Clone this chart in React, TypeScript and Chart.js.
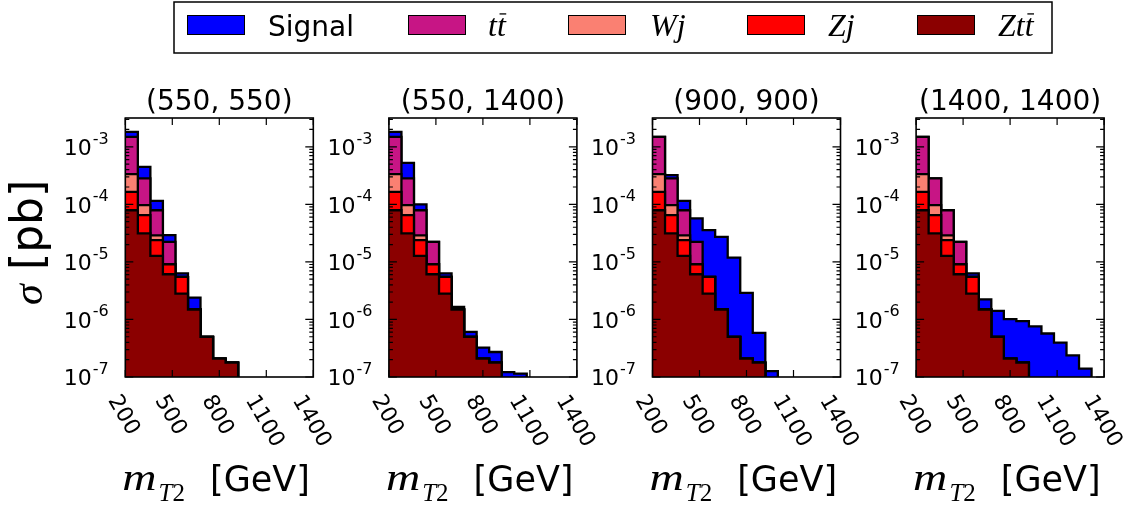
import React, { useEffect, useRef } from "react";
import { Chart, registerables } from "chart.js";

Chart.register(...registerables);

const WIDTH = 1131;
const HEIGHT = 507;

// m_T2 bin edges [GeV], 80 GeV bins
const binEdges = [200, 280, 360, 440, 520, 600, 680, 760, 840, 920, 1000, 1080, 1160, 1240, 1320, 1400];

const panelTitles = ["(550, 550)", "(550, 1400)", "(900, 900)", "(1400, 1400)"];
const xTickLabels = [200, 500, 800, 1100, 1400];
const yTickExponents = [-3, -4, -5, -6, -7];

// Background cross sections per bin [pb]
const zttBg = [7.9e-5, 3.12e-5, 1.27e-5, 6.1e-6, 2.82e-6, 1.49e-6, 4.97e-7, 2.09e-7, 1.78e-7, 0, 0, 0, 0, 0, 0];
const zjBg = [8.6e-5, 3.38e-5, 1.11e-5, 3.0e-6, 2.68e-6, 0, 0, 0, 0, 0, 0, 0, 0, 0, 0];
const wjBg = [1.7e-4, 3.2e-5, 5.0e-6, 0, 0, 0, 0, 0, 0, 0, 0, 0, 0, 0, 0];
const ttBg = [1.155e-3, 1.85e-4, 5.02e-5, 1.32e-5, 0, 0, 0, 0, 0, 0, 0, 0, 0, 0, 0];

// Signal cross sections per bin [pb] for each mass point
const signal550x550 = [3.3e-4, 1.67e-4, 3.6e-5, 6.8e-6, 8e-7, 9.1e-7, 0, 0, 0, 0, 0, 0, 0, 0, 0];
const signal550x1400 = [3.3e-4, 2.45e-4, 2.1e-5, 0, 8e-7, 1.6e-7, 1.1e-7, 1.15e-7, 9.4e-8, 1.22e-7, 1.14e-7, 0, 0, 0, 0];
const signal900x900 = [0, 4.0e-5, 3.6e-5, 3.45e-5, 3.0e-5, 2.57e-5, 1.14e-5, 2.68e-6, 4.04e-7, 1.27e-7, 0, 0, 0, 0, 0];
const signal1400x1400 = [0, 0, 0, 0, 8e-7, 7.5e-7, 9.1e-7, 8.0e-7, 7.6e-7, 7.6e-7, 5.7e-7, 3.96e-7, 2.38e-7, 1.4e-7, 0];

const signals = [signal550x550, signal550x1400, signal900x900, signal1400x1400];

// Stack order, bottom to top
const layerNames = ["Ztt", "Zj", "Wj", "tt", "Signal"];
const layerColors = ["#8B0000", "#FF0000", "#FA8072", "#C71585", "#0000FF"];

const Y_MIN = 1e-7;
const Y_MAX = Math.pow(10, -2.5);
const FLOOR = 1e-10;

const PANEL_LEFT0 = 125.3;
const PANEL_STEP = 263.6;
const PANEL_WIDTH = 188;
const PANEL_TOP = 118;
const PANEL_BOTTOM = 377;

const SANS = '"DejaVu Sans"';
const SERIF = '"Liberation Serif"';

function cumulativeLayers(signal: number[]): number[][] {
  const layers = [zttBg, zjBg, wjBg, ttBg, signal];
  const out: number[][] = [];
  let run = new Array(layers[0].length).fill(0);
  for (const layer of layers) {
    run = run.map((v, i) => v + layer[i]);
    out.push(run.slice());
  }
  return out;
}

// one point per left bin edge plus the closing right edge
function stepPoints(cum: number[]) {
  const pts = cum.map((v, i) => ({ x: binEdges[i], y: v > 0 ? v : FLOOR }));
  pts.push({ x: binEdges[binEdges.length - 1], y: FLOOR });
  return pts;
}

function drawMath(ctx: CanvasRenderingContext2D, text: string, x: number, y: number, size: number, barFrom: number) {
  // italic serif text; characters from index barFrom onward get an overbar
  ctx.font = `italic ${size}px ${SERIF}`;
  ctx.textAlign = "left";
  ctx.fillText(text, x, y);
  if (barFrom >= 0) {
    const pre = ctx.measureText(text.slice(0, barFrom)).width;
    const w = ctx.measureText(text.slice(barFrom)).width;
    ctx.save();
    ctx.lineWidth = 1.3;
    ctx.beginPath();
    ctx.moveTo(x + pre + w * 0.3, y - size * 0.69);
    ctx.lineTo(x + pre + w * 1.05, y - size * 0.69);
    ctx.stroke();
    ctx.restore();
  }
}

function drawLegend(ctx: CanvasRenderingContext2D) {
  ctx.save();
  ctx.fillStyle = "#fff";
  ctx.fillRect(174, 2, 878, 51);
  ctx.strokeStyle = "#000";
  ctx.lineWidth = 1.5;
  ctx.strokeRect(174, 2, 878, 51);
  const patchX = [187, 408, 568, 747, 917];
  const labelX = [268, 488, 650, 828, 998];
  const order = [4, 3, 2, 1, 0];
  order.forEach((layer, k) => {
    ctx.fillStyle = layerColors[layer];
    ctx.fillRect(patchX[k], 15, 58, 20);
    ctx.lineWidth = 1;
    ctx.strokeStyle = "#000";
    ctx.strokeRect(patchX[k] + 0.5, 15.5, 57, 19);
    ctx.fillStyle = "#000";
    ctx.textBaseline = "alphabetic";
    const name = layerNames[layer];
    if (name === "Signal") {
      ctx.font = `28px ${SANS}`;
      ctx.textAlign = "left";
      ctx.fillText("Signal", labelX[k], 36);
    } else if (name === "tt") {
      drawMath(ctx, "tt", labelX[k], 36, 32, 1);
    } else if (name === "Ztt") {
      drawMath(ctx, "Ztt", labelX[k], 36, 32, 2);
    } else {
      drawMath(ctx, name, labelX[k], 36, 32, -1);
    }
  });
  ctx.restore();
}

function decorPlugin(panel: number) {
  return {
    id: "panelDecor" + panel,
    afterDraw(chart: any) {
      const ctx: CanvasRenderingContext2D = chart.ctx;
      const { left, right, top, bottom } = chart.chartArea;
      const xs = chart.scales.x;
      const ys = chart.scales.y;
      const cx = (left + right) / 2;
      ctx.save();
      ctx.strokeStyle = "#000";
      ctx.fillStyle = "#000";

      // inward ticks
      ctx.lineWidth = 1.2;
      ctx.beginPath();
      for (const v of xTickLabels) {
        const px = xs.getPixelForValue(v);
        ctx.moveTo(px, bottom);
        ctx.lineTo(px, bottom - 7);
        ctx.moveTo(px, top);
        ctx.lineTo(px, top + 7);
      }
      for (let e = -7; e <= -3; e++) {
        for (let m = 1; m <= 9; m++) {
          const v = m * Math.pow(10, e);
          if (v > Y_MAX * 1.0001) break;
          const py = ys.getPixelForValue(v);
          const len = m === 1 ? 8 : 4;
          ctx.moveTo(left, py);
          ctx.lineTo(left + len, py);
          ctx.moveTo(right, py);
          ctx.lineTo(right - len, py);
        }
      }
      ctx.stroke();

      // frame
      ctx.lineWidth = 1.6;
      ctx.strokeRect(left, top, right - left, bottom - top);

      // title
      ctx.font = `28px ${SANS}`;
      ctx.textAlign = "center";
      ctx.textBaseline = "alphabetic";
      ctx.fillText(panelTitles[panel], cx, 110);

      // y tick labels: 10^e
      for (const e of yTickExponents) {
        const py = ys.getPixelForValue(Math.pow(10, e));
        const sup = String(e);
        ctx.font = `16px ${SANS}`;
        const supW = ctx.measureText(sup).width;
        ctx.font = `22px ${SANS}`;
        const baseW = ctx.measureText("10").width;
        const rightEdge = left - 16.5;
        ctx.textAlign = "left";
        ctx.fillText("10", rightEdge - supW - baseW - 1, py + 8.2);
        ctx.font = `16px ${SANS}`;
        ctx.fillText(sup, rightEdge - supW, py - 3);
      }

      // x tick labels, rotated clockwise
      ctx.font = `22px ${SANS}`;
      const ang = (60 * Math.PI) / 180;
      for (const v of xTickLabels) {
        const px = xs.getPixelForValue(v);
        const label = String(v);
        const w = ctx.measureText(label).width;
        const h = 16;
        const H = w * Math.sin(ang) + h * Math.cos(ang);
        ctx.save();
        ctx.translate(px, 392 + H / 2);
        ctx.rotate(ang);
        ctx.textAlign = "center";
        ctx.fillText(label, 0, 8);
        ctx.restore();
      }

      // x axis title: m_T2 [GeV]
      ctx.textAlign = "left";
      const mX = cx - 97;
      const mStretch = 1.25;
      ctx.save();
      ctx.translate(mX, 490);
      ctx.scale(mStretch, 1);
      ctx.font = `italic 38px ${SERIF}`;
      ctx.fillText("m", 0, 0);
      const mW = ctx.measureText("m").width * mStretch;
      ctx.restore();
      ctx.font = `italic 25px ${SERIF}`;
      ctx.fillText("T", mX + mW + 2, 501);
      const tW = ctx.measureText("T").width;
      ctx.font = `25px ${SERIF}`;
      ctx.fillText("2", mX + mW + 2 + tW, 501);
      ctx.font = `35px ${SANS}`;
      ctx.fillText("[GeV]", cx - 9.3, 491);

      if (panel === 0) {
        // y axis title: sigma [pb]
        ctx.save();
        ctx.translate(42, 305);
        ctx.rotate(-Math.PI / 2);
        ctx.textAlign = "left";
        ctx.font = `italic 42px ${SERIF}`;
        ctx.fillText("σ", 0, 0);
        ctx.font = `44px ${SANS}`;
        ctx.fillText("[pb]", 35, 0);
        ctx.restore();
        drawLegend(ctx);
      }
      ctx.restore();
    },
  };
}

function makeConfig(panel: number): any {
  const cum = cumulativeLayers(signals[panel]);
  const datasets = cum.map((c, k) => ({
    label: layerNames[k],
    data: stepPoints(c),
    // horizontal at each point's value up to the next edge, then vertical
    stepped: "before",
    borderColor: "#000",
    borderWidth: 2.3,
    backgroundColor: layerColors[k],
    fill: k === 0 ? "start" : "-1",
    pointRadius: 0,
    tension: 0,
    borderJoinStyle: "miter",
  }));
  const left = PANEL_LEFT0 + panel * PANEL_STEP;
  return {
    type: "line",
    data: { datasets },
    options: {
      animation: false,
      responsive: false,
      events: [],
      layout: {
        padding: {
          left,
          right: WIDTH - left - PANEL_WIDTH,
          top: PANEL_TOP,
          bottom: HEIGHT - PANEL_BOTTOM,
        },
      },
      scales: {
        x: { type: "linear", min: 200, max: 1400, bounds: "data", display: false },
        y: { type: "logarithmic", min: Y_MIN, max: Y_MAX, bounds: "data", display: false },
      },
      plugins: { legend: { display: false }, tooltip: { enabled: false } },
    },
    plugins: [decorPlugin(panel)],
  };
}

export default function App() {
  const canvasRefs = useRef<(HTMLCanvasElement | null)[]>([]);

  useEffect(() => {
    const charts = panelTitles.map((_, i) => new Chart(canvasRefs.current[i] as HTMLCanvasElement, makeConfig(i)));
    let alive = true;
    if ((document as any).fonts && (document as any).fonts.ready) {
      (document as any).fonts.ready.then(() => {
        if (alive) charts.forEach((c) => c.draw());
      });
    }
    return () => {
      alive = false;
      charts.forEach((c) => c.destroy());
    };
  }, []);

  return (
    <div style={{ position: "absolute", left: 0, top: 0, width: WIDTH, height: HEIGHT, background: "#fff" }}>
      {panelTitles.map((t, i) => (
        <canvas
          key={t}
          ref={(el) => {
            canvasRefs.current[i] = el;
          }}
          width={WIDTH}
          height={HEIGHT}
          style={{ position: "absolute", left: 0, top: 0, width: WIDTH, height: HEIGHT }}
        />
      ))}
    </div>
  );
}
